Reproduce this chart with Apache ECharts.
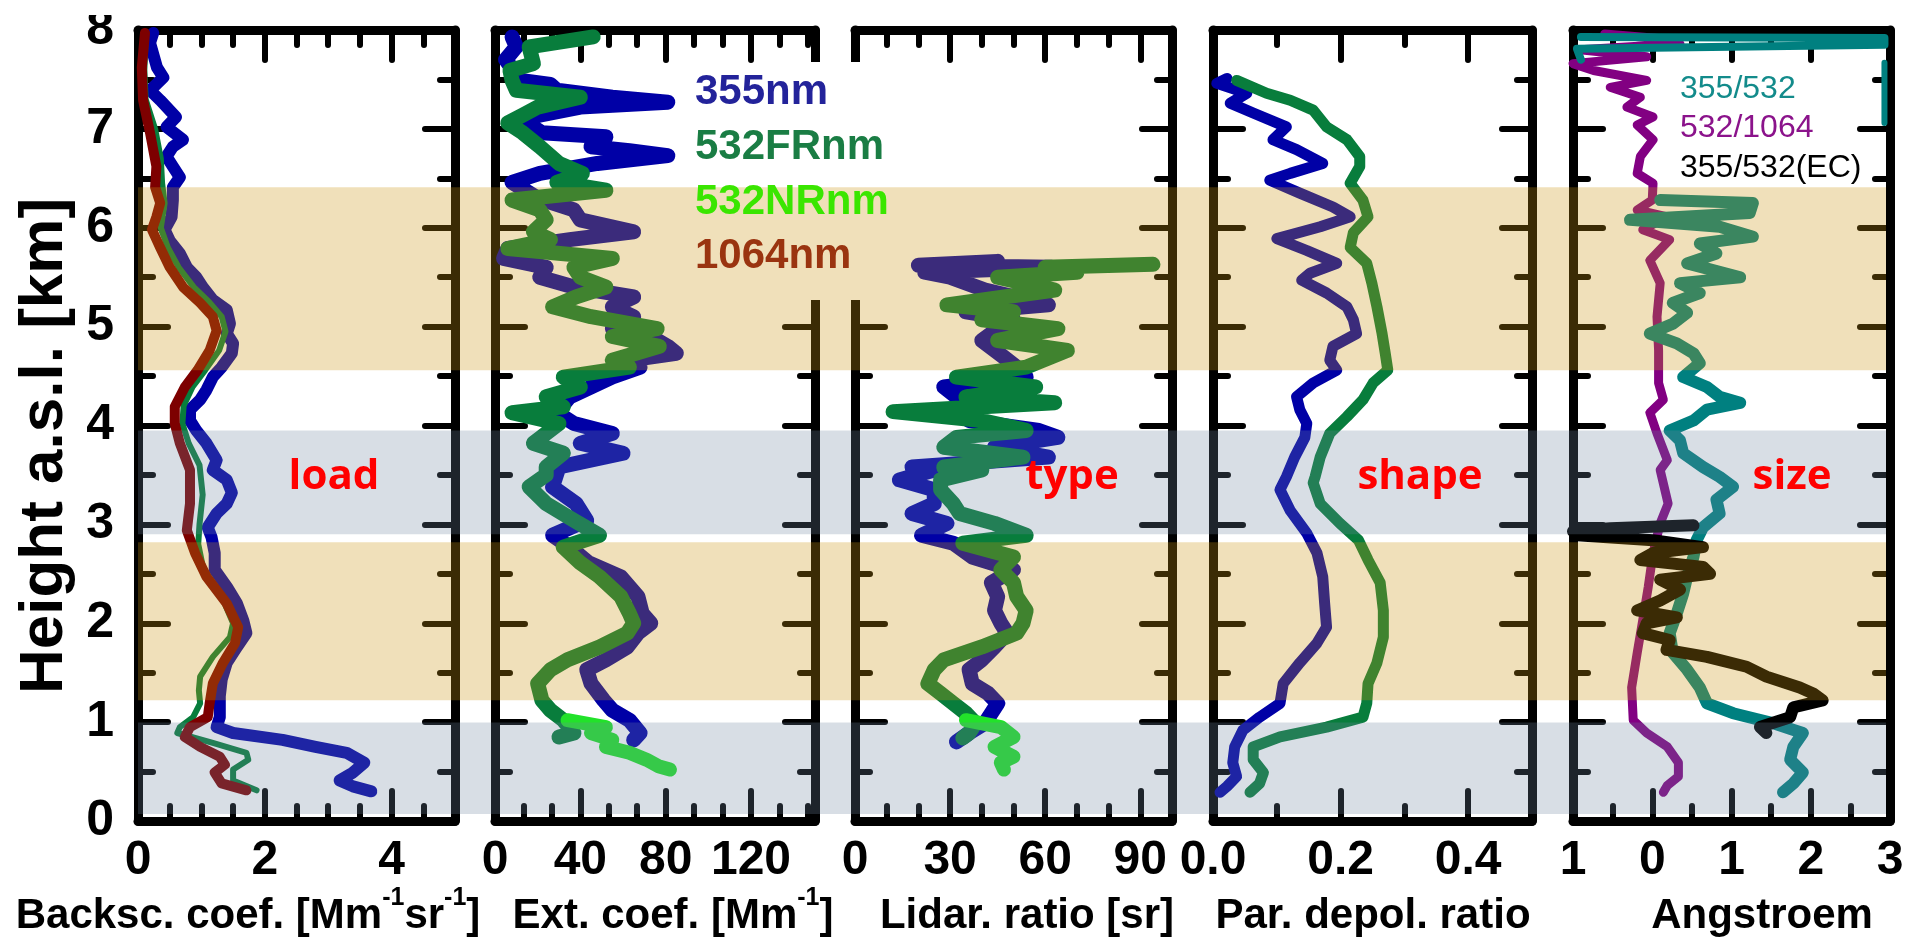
<!DOCTYPE html>
<html><head><meta charset="utf-8">
<script src="https://cdn.jsdelivr.net/npm/echarts@6/dist/echarts.min.js"></script>
<style>html,body{margin:0;padding:0;background:#fff}#c{width:1911px;height:952px}</style>
</head><body><div id="c"></div>
<script>
// ---------- data: [value, height km] ----------
const bsc355 = [[0.24,7.97],[0.19,7.87],[0.3,7.62],[0.4,7.52],[0.19,7.39],[0.35,7.29],[0.6,7.12],[0.45,7.02],[0.71,6.89],[0.55,6.82],[0.45,6.72],[0.55,6.62],[0.66,6.51],[0.55,6.41],[0.55,6.28],[0.53,6.11],[0.42,5.98],[0.5,5.87],[0.66,5.74],[0.77,5.6],[0.92,5.5],[1.02,5.4],[1.18,5.27],[1.4,5.17],[1.45,5.03],[1.4,4.93],[1.5,4.83],[1.48,4.73],[1.32,4.59],[1.18,4.49],[1.08,4.36],[0.98,4.26],[0.82,4.16],[0.82,4.05],[0.92,3.95],[1.08,3.82],[1.24,3.65],[1.18,3.55],[1.4,3.45],[1.48,3.32],[1.4,3.21],[1.24,3.11],[1.1,2.97],[1.16,2.87],[1.21,2.71],[1.21,2.54],[1.4,2.37],[1.56,2.2],[1.66,2.03],[1.71,1.9],[1.56,1.76],[1.4,1.6],[1.32,1.43],[1.29,1.26],[1.29,1.05],[1.24,0.95],[1.5,0.89],[2.28,0.82],[2.8,0.75],[3.29,0.69],[3.57,0.59],[3.39,0.49],[3.18,0.41],[3.39,0.35],[3.68,0.3]];
const bsc532 = [[0.12,7.9],[0.1,7.6],[0.12,7.3],[0.27,7.0],[0.36,6.7],[0.38,6.45],[0.42,6.25],[0.36,6.0],[0.47,5.8],[0.64,5.6],[0.88,5.4],[1.12,5.25],[1.32,5.1],[1.38,4.95],[1.28,4.76],[1.06,4.56],[0.86,4.39],[0.72,4.2],[0.7,4.02],[0.8,3.82],[0.97,3.6],[1.02,3.3],[0.97,3.0],[0.95,2.8],[1.03,2.55],[1.3,2.3],[1.5,2.0],[1.45,1.86],[1.18,1.66],[0.98,1.46],[0.96,1.32],[0.98,1.19],[0.87,1.05],[0.66,0.95],[0.62,0.89],[1.18,0.79],[1.71,0.69],[1.74,0.62],[1.5,0.52],[1.5,0.41],[1.87,0.31]];
const bsc1064 = [[0.11,7.97],[0.06,7.62],[0.08,7.29],[0.19,6.96],[0.29,6.62],[0.27,6.41],[0.35,6.25],[0.29,6.11],[0.22,5.98],[0.35,5.8],[0.5,5.6],[0.71,5.4],[0.98,5.24],[1.18,5.1],[1.24,4.96],[1.13,4.76],[0.94,4.56],[0.74,4.39],[0.58,4.19],[0.58,4.02],[0.66,3.82],[0.82,3.55],[0.82,3.21],[0.77,2.94],[0.9,2.71],[1.08,2.47],[1.4,2.2],[1.58,1.96],[1.53,1.8],[1.34,1.6],[1.18,1.39],[1.13,1.19],[1.1,1.05],[0.82,0.95],[0.74,0.85],[0.98,0.75],[1.29,0.65],[1.37,0.57],[1.21,0.49],[1.32,0.38],[1.71,0.31]];

const ext355 = [[8,7.93],[10,7.83],[5,7.7],[12,7.49],[26,7.45],[29,7.39],[55,7.32],[81,7.27],[40,7.22],[12,7.1],[22,6.96],[52,6.92],[45,6.82],[63,6.78],[81,6.73],[48,6.65],[21,6.55],[8,6.46],[20,6.3],[37,6.18],[40,6.08],[65,5.96],[35,5.88],[6,5.79],[4,5.69],[24,5.6],[21,5.5],[37,5.4],[65,5.3],[55,5.2],[65,5.1],[55,4.98],[73,4.9],[81,4.8],[85,4.73],[62,4.66],[68,4.59],[55,4.49],[45,4.39],[35,4.29],[29,4.13],[37,4.02],[55,3.92],[40,3.82],[60,3.72],[30,3.58],[27,3.38],[38,3.21],[43,3.04],[27,2.89],[35,2.77],[44,2.61],[59,2.47],[67,2.27],[69,2.1],[73,2.0],[67,1.9],[62,1.76],[52,1.63],[43,1.53],[45,1.39],[51,1.22],[55,1.12],[63,1.02],[68,0.89],[65,0.82]];
const ext532FR = [[46,7.93],[16,7.83],[18,7.66],[7,7.59],[8,7.49],[10,7.39],[40,7.32],[20,7.22],[13,7.14],[6,7.06],[13,6.96],[21,6.82],[30,6.65],[41,6.55],[29,6.46],[52,6.38],[8,6.28],[21,6.18],[24,6.08],[18,5.96],[26,5.88],[6,5.79],[55,5.69],[37,5.6],[40,5.5],[52,5.4],[38,5.3],[27,5.2],[45,5.1],[76,4.98],[55,4.9],[77,4.8],[55,4.66],[63,4.59],[32,4.49],[40,4.39],[24,4.29],[32,4.19],[8,4.13],[30,4.02],[24,3.92],[18,3.82],[32,3.72],[24,3.58],[24,3.5],[16,3.38],[24,3.21],[37,3.04],[49,2.89],[32,2.77],[40,2.61],[49,2.47],[59,2.27],[63,2.1],[65,2.0],[62,1.9],[49,1.76],[34,1.63],[26,1.53],[20,1.39],[22,1.22],[26,1.12],[32,1.02],[37,0.89],[30,0.85]];
const ext532NR = [[34,1.02],[52,0.95],[45,0.89],[55,0.82],[52,0.75],[63,0.69],[71,0.62],[77,0.55],[82,0.52]];

const lr355 = [[45,5.66],[20,5.62],[62,5.6],[22,5.55],[30,5.5],[41,5.37],[61,5.22],[35,5.15],[50,5.07],[43,4.93],[40,4.86],[47,4.69],[51,4.59],[54,4.49],[28,4.39],[32,4.29],[35,4.14],[36,4.05],[58,3.95],[64,3.88],[44,3.78],[61,3.68],[18,3.58],[25,3.55],[14,3.45],[25,3.35],[25,3.21],[18,3.11],[29,3.01],[21,2.89],[31,2.81],[37,2.67],[50,2.54],[43,2.41],[45,2.27],[44,2.13],[46,2.0],[48,1.9],[44,1.76],[40,1.63],[36,1.53],[37,1.39],[42,1.29],[45,1.19],[43,1.09],[41,0.99],[36,0.89],[32,0.8]];
const lr532FR = [[94,5.63],[60,5.6],[70,5.55],[45,5.5],[63,5.37],[29,5.22],[50,5.15],[40,5.07],[64,4.98],[45,4.86],[67,4.76],[54,4.59],[32,4.49],[57,4.39],[35,4.29],[63,4.23],[12,4.14],[40,4.05],[54,3.95],[32,3.88],[28,3.78],[53,3.68],[28,3.58],[40,3.55],[27,3.45],[27,3.35],[31,3.21],[33,3.11],[44,3.01],[54,2.89],[34,2.81],[50,2.67],[46,2.54],[50,2.41],[51,2.27],[54,2.13],[53,2.0],[51,1.9],[40,1.76],[28,1.63],[25,1.53],[23,1.39],[27,1.29],[31,1.19],[35,1.09],[38,0.99],[36,0.89],[34,0.84]];
const lr532NR = [[35,1.02],[46,0.95],[50,0.85],[44,0.75],[50,0.65],[46,0.59],[47,0.52]];

const dep355 = [[0.022,7.51],[0.006,7.46],[0.053,7.36],[0.027,7.26],[0.063,7.16],[0.115,7.02],[0.094,6.89],[0.131,6.79],[0.172,6.65],[0.121,6.55],[0.089,6.48],[0.136,6.35],[0.188,6.21],[0.215,6.11],[0.168,6.01],[0.1,5.89],[0.147,5.77],[0.194,5.64],[0.152,5.54],[0.139,5.47],[0.178,5.34],[0.21,5.2],[0.22,5.07],[0.225,4.93],[0.188,4.8],[0.183,4.66],[0.194,4.56],[0.157,4.43],[0.131,4.29],[0.136,4.16],[0.147,4.02],[0.144,3.88],[0.128,3.68],[0.115,3.48],[0.105,3.35],[0.121,3.14],[0.147,2.91],[0.163,2.71],[0.172,2.47],[0.175,2.2],[0.178,1.96],[0.163,1.8],[0.136,1.6],[0.11,1.39],[0.105,1.19],[0.073,1.05],[0.047,0.92],[0.034,0.75],[0.031,0.59],[0.037,0.45],[0.022,0.35],[0.011,0.29]];
const dep532 = [[0.037,7.49],[0.084,7.36],[0.121,7.29],[0.157,7.19],[0.178,7.02],[0.21,6.89],[0.23,6.72],[0.23,6.62],[0.215,6.45],[0.235,6.28],[0.243,6.11],[0.22,5.95],[0.215,5.8],[0.241,5.64],[0.249,5.44],[0.257,5.2],[0.265,4.93],[0.27,4.73],[0.274,4.56],[0.251,4.43],[0.235,4.26],[0.21,4.09],[0.183,3.92],[0.168,3.68],[0.16,3.48],[0.157,3.42],[0.168,3.21],[0.199,3.01],[0.228,2.84],[0.243,2.64],[0.262,2.41],[0.267,2.13],[0.267,1.86],[0.257,1.6],[0.243,1.39],[0.241,1.19],[0.235,1.05],[0.178,0.95],[0.105,0.85],[0.063,0.75],[0.063,0.62],[0.079,0.49],[0.073,0.38],[0.058,0.29]];

const ang532_1064 = [[-0.6,7.96],[0.3,7.9],[0.35,7.86],[-0.91,7.8],[-0.07,7.73],[-1.0,7.66],[-0.74,7.59],[-0.07,7.49],[-0.53,7.42],[-0.15,7.32],[-0.32,7.22],[0.01,7.12],[-0.19,7.04],[0.01,6.89],[-0.15,6.72],[-0.19,6.55],[0.01,6.45],[0.0,6.28],[-0.19,6.18],[0.19,6.11],[-0.12,5.98],[0.22,5.88],[-0.03,5.67],[0.1,5.44],[0.06,5.1],[0.08,4.76],[0.08,4.43],[0.14,4.26],[-0.03,4.13],[0.06,3.92],[0.19,3.65],[0.1,3.55],[0.2,3.21],[0.1,3.01],[0.01,2.71],[-0.05,2.37],[-0.12,2.03],[-0.19,1.7],[-0.26,1.35],[-0.24,1.02],[-0.07,0.89],[0.19,0.75],[0.33,0.59],[0.33,0.45],[0.19,0.36],[0.14,0.29]];
const ang355_532Top = [[-0.9,7.93],[2.93,7.92],[2.93,7.85],[-0.95,7.81],[-0.9,7.7]];
const ang355_532Edge = [[2.93,7.67],[2.93,7.06]];
const ang355_532 = [[0.1,6.28],[1.27,6.25],[1.23,6.15],[-0.28,6.08],[0.85,6.01],[1.27,5.91],[0.6,5.84],[0.81,5.74],[0.44,5.64],[1.11,5.5],[0.35,5.44],[0.6,5.34],[0.26,5.24],[0.44,5.14],[0.26,5.03],[-0.03,4.93],[0.31,4.83],[0.52,4.73],[0.6,4.63],[0.39,4.49],[0.69,4.39],[0.85,4.29],[1.11,4.23],[0.69,4.16],[0.52,4.05],[0.22,3.95],[0.35,3.85],[0.39,3.72],[0.64,3.58],[0.85,3.48],[1.02,3.38],[0.81,3.25],[0.85,3.11],[0.64,2.97],[0.56,2.84],[0.52,2.67],[0.44,2.47],[0.39,2.3],[0.31,2.1],[0.22,1.9],[0.26,1.7],[0.44,1.53],[0.6,1.35],[0.69,1.19],[1.02,1.09],[1.52,0.99],[1.9,0.89],[1.78,0.75],[1.74,0.62],[1.9,0.49],[1.78,0.38],[1.65,0.29]];
const ang355_532EC = [[0.52,2.99],[-0.53,2.96],[-1.0,2.93],[-0.95,2.89],[0.01,2.84],[0.64,2.77],[0.01,2.71],[-0.15,2.64],[0.64,2.57],[0.73,2.5],[0.1,2.44],[0.35,2.34],[0.1,2.23],[-0.19,2.13],[0.31,2.06],[-0.07,2.0],[-0.12,1.9],[0.22,1.83],[0.18,1.73],[0.69,1.66],[1.19,1.56],[1.44,1.46],[1.86,1.35],[2.03,1.29],[2.15,1.22],[1.78,1.15],[1.74,1.05],[1.36,0.95],[1.44,0.89]];

// axis ranges and tick labels
const xMin = [0, 0, 0, 0, -1];
const xMax = [5, 150, 100, 0.5, 3];
const xMajorStep = [2, 40, 30, 0.2, 1];
const xMinorStep = [0.5, 40/3, 10, 0.1, 0.5];
const yMin = 0, yMax = 8, yStep = 1;
const panelTitles = ['Backsc. coef. [Mm{s|-1}sr{s|-1}]', 'Ext. coef. [Mm{s|-1}]', 'Lidar. ratio [sr]', 'Par. depol. ratio', 'Angstroem'];
const legendWave = ['355nm', '532FRnm', '532NRnm', '1064nm'];
const legendAng = ['355/532', '532/1064', '355/532(EC)'];
const panelTags = ['load', 'type', 'shape', 'size'];
const bandBottom = [4.56, 2.90, 1.22, 0.07];
const bandTop = [6.41, 3.95, 2.82, 0.995];
const bandKind = [0, 1, 0, 1];

// ---------- layout / style ----------
const FONT = "'Liberation Sans', Arial, sans-serif";
const BLUE = '#0000a6', GREEN = '#087d3c', LIME = '#22e22a', RED = '#7d0000', TEAL = '#008080', PURPLE = '#820082', BLACK = '#000000';
const gridLeft = [138, 495, 855, 1213, 1573];
const gridWidth = [317, 320, 317, 319, 317];
const GT = 30, GH = 791;
const bandFill = ['rgba(203,147,17,0.29)', 'rgba(111,133,159,0.27)'];

const grids = gridLeft.map((l, i) => ({left: l, top: GT, width: gridWidth[i], height: GH}));
grids.push({left: 138, top: GT, width: 1748, height: GH});

const lineBorder = {show: true, onZero: false, lineStyle: {color: '#000', width: 9, cap: 'round'}};
const tickStyle = {color: '#000', width: 6, cap: 'round'};
const xAxes = [], yAxes = [];
const fmt = [v => String(v), v => String(v), v => String(v), v => v.toFixed(1), v => String(Math.abs(v))];
for (let i = 0; i < 5; i++) {
  const base = {type: 'value', gridIndex: i, min: xMin[i], max: xMax[i], splitLine: {show: false}};
  xAxes.push(Object.assign({}, base, {position: 'bottom', interval: xMajorStep[i], axisLine: lineBorder,
    axisTick: {show: true, inside: true, length: 30, lineStyle: tickStyle},
    axisLabel: {show: true, margin: 16, fontFamily: FONT, fontWeight: 'bold', fontSize: 48, color: '#000',
      showMaxLabel: i === 4, showMinLabel: true, formatter: fmt[i]}}));
  xAxes.push(Object.assign({}, base, {position: 'bottom', interval: xMinorStep[i], axisLine: {show: false, onZero: false},
    axisTick: {show: true, inside: true, length: 15, lineStyle: tickStyle}, axisLabel: {show: false}}));
  xAxes.push(Object.assign({}, base, {position: 'top', interval: xMajorStep[i], axisLine: lineBorder,
    axisTick: {show: true, inside: true, length: 30, lineStyle: tickStyle}, axisLabel: {show: false}}));
  xAxes.push(Object.assign({}, base, {position: 'top', interval: xMinorStep[i], axisLine: {show: false, onZero: false},
    axisTick: {show: true, inside: true, length: 15, lineStyle: tickStyle}, axisLabel: {show: false}}));
  const ybase = {type: 'value', gridIndex: i, min: yMin, max: yMax, interval: yStep, splitLine: {show: false},
    axisLine: lineBorder, axisTick: {show: true, inside: true, length: 30, lineStyle: tickStyle},
    minorTick: {show: true, splitNumber: 2, length: 15, lineStyle: tickStyle}};
  yAxes.push(Object.assign({}, ybase, {position: 'left',
    axisLabel: {show: i === 0, margin: 24, fontFamily: FONT, fontWeight: 'bold', fontSize: 50, color: '#000', padding: [0, 0, 10, 0]}}));
  yAxes.push(Object.assign({}, ybase, {position: 'right', axisLabel: {show: false}}));
}
xAxes.push({type: 'value', gridIndex: 5, min: 0, max: 1, show: false});
yAxes.push({type: 'value', gridIndex: 5, min: yMin, max: yMax, show: false});

const seriesDefs = [
  {g: 0, d: bsc355, c: BLUE, w: 12}, {g: 0, d: bsc532, c: GREEN, w: 6}, {g: 0, d: bsc1064, c: RED, w: 10},
  {g: 1, d: ext355, c: BLUE, w: 15}, {g: 1, d: ext532FR, c: GREEN, w: 15}, {g: 1, d: ext532NR, c: LIME, w: 14},
  {g: 2, d: lr355, c: BLUE, w: 15}, {g: 2, d: lr532FR, c: GREEN, w: 15}, {g: 2, d: lr532NR, c: LIME, w: 14},
  {g: 3, d: dep355, c: BLUE, w: 11}, {g: 3, d: dep532, c: GREEN, w: 11},
  {g: 4, d: ang532_1064, c: PURPLE, w: 9}, {g: 4, d: ang355_532Top, c: TEAL, w: 8}, {g: 4, d: ang355_532Edge, c: TEAL, w: 6},
  {g: 4, d: ang355_532, c: TEAL, w: 12}, {g: 4, d: ang355_532EC, c: BLACK, w: 12}
];
const series = seriesDefs.map(s => ({
  type: 'line', xAxisIndex: s.g * 4, yAxisIndex: s.g * 2, data: s.d, showSymbol: false, symbol: 'none',
  z: 2, clip: true, lineStyle: {color: s.c, width: s.w, cap: 'round', join: 'round'}, silent: true
}));
series.push({
  type: 'custom', xAxisIndex: 20, yAxisIndex: 10, z: 5, silent: true,
  data: bandBottom.map((b, i) => [b, bandTop[i], bandKind[i]]),
  renderItem: (params, api) => {
    const p0 = api.coord([0, api.value(1)]);
    const p1 = api.coord([1, api.value(0)]);
    return {type: 'rect', shape: {x: p0[0], y: p0[1], width: p1[0] - p0[0], height: p1[1] - p0[1]},
      style: {fill: bandFill[api.value(2)]}};
  }
});

const titleX = [248, 673, 1027, 1373, 1762];
const graphics = [];
// gap in the borders between panel 2 and 3 behind the legend
graphics.push({type: 'rect', z: 3, silent: true, shape: {x: 778, y: 62, width: 114, height: 238}, style: {fill: '#fff'}});
graphics.push({type: 'rect', z: 30, silent: true, shape: {x: 0, y: 0, width: 140, height: 15}, style: {fill: '#fff'}});
panelTitles.forEach((t, i) => graphics.push({type: 'text', z: 10, x: titleX[i], y: 916, silent: true,
  style: {text: t, fontFamily: FONT, fontWeight: 'bold', fontSize: 42, lineHeight: 60, fill: '#000',
    align: 'center', verticalAlign: 'middle', textAlign: 'center', textVerticalAlign: 'middle',
    rich: {s: {fontFamily: FONT, fontWeight: 'bold', fontSize: 25, lineHeight: 25, verticalAlign: 'top', fill: '#000'}}}}));
graphics.push({type: 'text', z: 10, x: 45, y: 446, rotation: Math.PI / 2, silent: true,
  style: {text: 'Height a.s.l. [km]', fontFamily: FONT, fontWeight: 'bold', fontSize: 62, fill: '#000',
    align: 'center', verticalAlign: 'middle', textAlign: 'center', textVerticalAlign: 'middle'}});
const waveColors = ['#23239a', '#1a7d44', '#3ae600', '#9a3410'];
const waveY = [92, 147, 202, 256];
legendWave.forEach((t, i) => graphics.push({type: 'text', z: 10, x: 695, y: waveY[i], silent: true,
  style: {text: t, fontFamily: FONT, fontWeight: 'bold', fontSize: 42, fill: waveColors[i],
    align: 'left', verticalAlign: 'middle', textAlign: 'left', textVerticalAlign: 'middle'}}));
const angColors = ['#138b8b', '#8b138b', '#000000'];
const angY = [89, 128, 168];
legendAng.forEach((t, i) => graphics.push({type: 'text', z: 10, x: 1680, y: angY[i], silent: true,
  style: {text: t, fontFamily: FONT, fontWeight: 'normal', fontSize: 32, fill: angColors[i],
    align: 'left', verticalAlign: 'middle', textAlign: 'left', textVerticalAlign: 'middle'}}));
const tagX = [334, 1072, 1420, 1792];
panelTags.forEach((t, i) => graphics.push({type: 'text', z: 10, x: tagX[i], y: 477, silent: true,
  style: {text: t, fontFamily: "'Open Sans', 'Noto Sans', sans-serif", fontWeight: 'bold', fontSize: 42, fill: '#ff0000',
    align: 'center', verticalAlign: 'middle', textAlign: 'center', textVerticalAlign: 'middle'}}));

const chart = echarts.init(document.getElementById('c'), null, {renderer: 'canvas'});
chart.setOption({
  animation: false, backgroundColor: '#ffffff',
  grid: grids, xAxis: xAxes, yAxis: yAxes, series: series, graphic: graphics
});
</script></body></html>
